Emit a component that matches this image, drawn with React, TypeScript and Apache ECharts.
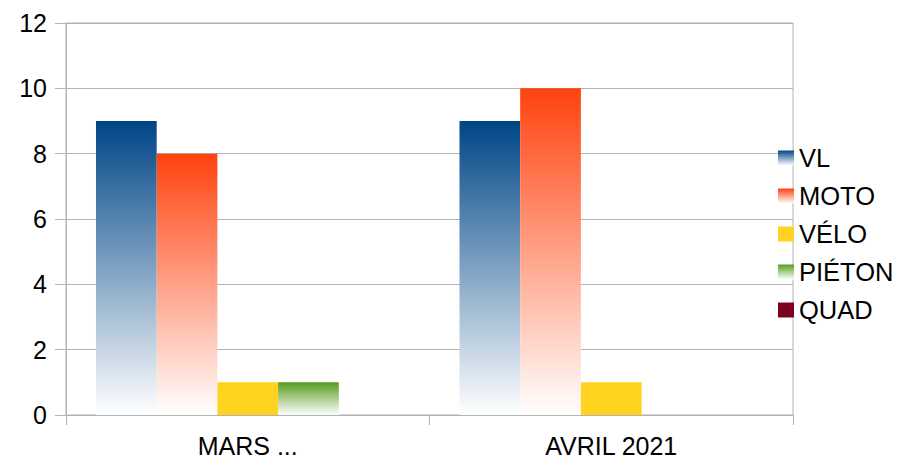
import React, { useEffect, useRef } from "react";
import * as echarts from "echarts";

const categories = ["MARS ...", "AVRIL 2021"];
const seriesNames = ["VL", "MOTO", "VÉLO", "PIÉTON", "QUAD"];
const vlValues = [9, 9];
const motoValues = [8, 10];
const veloValues = [1, 1];
const pietonValues = [1, 0];
const quadValues = [0, 0];
const yTicks = { min: 0, max: 12, interval: 2 };

const grad = (c: string) =>
  new echarts.graphic.LinearGradient(0, 0, 0, 1, [
    { offset: 0, color: c },
    { offset: 1, color: "#ffffff" },
  ]);

export default function App() {
  const ref = useRef<HTMLDivElement>(null);
  useEffect(() => {
    if (!ref.current) return;
    const chart = echarts.init(ref.current, null, { renderer: "svg" });
    const font = "'Liberation Sans', Arial, sans-serif";
    const allValues = [vlValues, motoValues, veloValues, pietonValues, quadValues];
    const colors = [grad("#004586"), grad("#ff420e"), "#ffd320", grad("#579d1c"), "#7e0021"];
    chart.setOption({
      animation: false,
      backgroundColor: "#ffffff",
      textStyle: { fontFamily: font },
      grid: {
        left: 66,
        right: 114,
        top: 23,
        bottom: 47,
        show: true,
        borderColor: "#b3b3b3",
        borderWidth: 1,
      },
      legend: {
        orient: "vertical",
        left: 778,
        top: 145,
        padding: 0,
        itemWidth: 16,
        itemHeight: 15,
        itemGap: 12,
        icon: "rect",
        textStyle: { fontSize: 25.5, color: "#000", fontFamily: font },
        data: seriesNames,
      },
      xAxis: {
        type: "category",
        data: categories,
        axisLine: { lineStyle: { color: "#b3b3b3", width: 1 } },
        axisTick: { show: true, length: 10, lineStyle: { color: "#b3b3b3" } },
        axisLabel: { fontSize: 25, color: "#000", margin: 18, fontFamily: font },
      },
      yAxis: {
        type: "value",
        min: yTicks.min,
        max: yTicks.max,
        interval: yTicks.interval,
        axisLine: { show: true, lineStyle: { color: "#b3b3b3", width: 1 } },
        axisTick: { show: true, length: 11, lineStyle: { color: "#b3b3b3" } },
        axisLabel: { fontSize: 25, color: "#000", margin: 19, fontFamily: font },
        splitLine: { show: true, lineStyle: { color: "#b3b3b3", width: 1 } },
      },
      series: seriesNames.map((name, i) => ({
        name,
        type: "bar",
        data: allValues[i],
        barGap: "0%",
        barCategoryGap: "16.5%",
        itemStyle: { color: colors[i] },
      })),
    });
    return () => chart.dispose();
  }, []);
  return <div ref={ref} style={{ width: 907, height: 462, marginLeft: -8, marginTop: -8 }} />;
}
